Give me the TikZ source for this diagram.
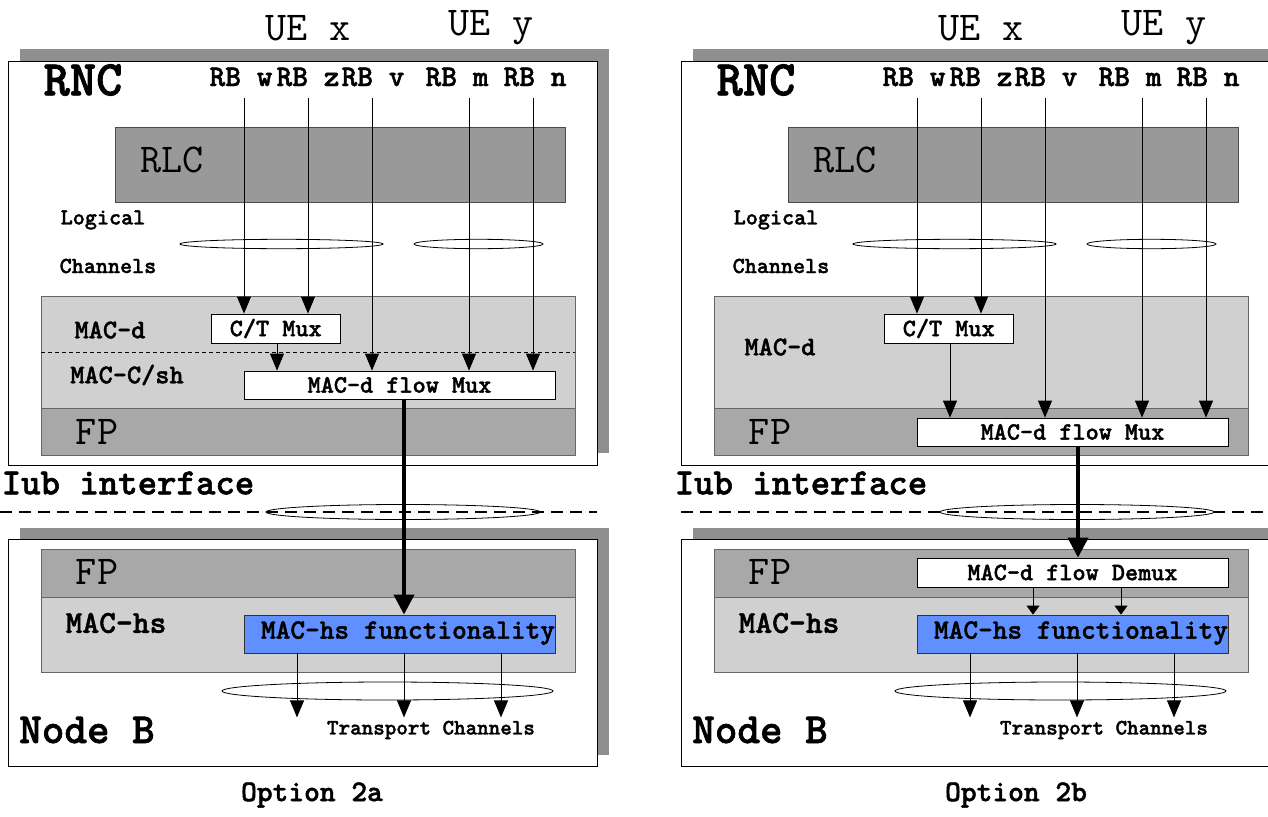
\documentclass[tikz,border=0pt]{standalone}
\usepackage{fontspec}
\newcommand\cour{\ttfamily}
\newfontfamily\courb{lmmonolt10-bold.otf}[FakeBold=1.5]
\usetikzlibrary{arrows.meta}
\definecolor{shadowgray}{HTML}{8F8F8F}
\definecolor{rlcgray}{HTML}{999999}
\definecolor{macgray}{HTML}{D0D0D0}
\definecolor{fpgray}{HTML}{A8A8A8}
\definecolor{hsblue}{HTML}{6090FF}
\newcommand\fsz[1]{\fontsize{#1}{#1}\selectfont}
\tikzset{
  ue/.style={inner sep=0, font=\cour\fsz{41}},
  rnct/.style={inner sep=0, font=\courb\fsz{50}},
  rb/.style={inner sep=0, font=\courb\fsz{30}},
  layer/.style={inner sep=0, font=\cour\fsz{41}},
  small/.style={inner sep=0, font=\courb\fsz{23}},
  maclbl/.style={inner sep=0, font=\courb\fsz{27}},
  hslbl/.style={inner sep=0, font=\courb\fsz{32}},
  big/.style={inner sep=0, font=\courb\fsz{43}},
  panelbox/.style={draw=black, fill=white, line width=0.8pt, inner sep=0},
  rlcbox/.style={draw=black!70, fill=rlcgray, line width=0.8pt, inner sep=0},
  macbox/.style={draw=black!60, fill=macgray, line width=0.8pt, inner sep=0},
  fpbox/.style={draw=black!60, fill=fpgray, line width=0.8pt, inner sep=0},
  whitebox/.style={draw=black, fill=white, line width=0.8pt, inner sep=0, font=\courb\fsz{25}},
  bluebox/.style={draw=black!80, fill=hsblue, line width=0.8pt, inner sep=0},
  arr/.style={-{Triangle[length=17pt,width=14pt]}, line width=0.9pt},
  smallarr/.style={-{Triangle[length=9pt,width=13pt]}, line width=0.9pt},
  thickarr/.style={-{Triangle[length=20pt,width=20pt]}, line width=4pt},
  thinell/.style={draw=black, line width=0.8pt},
  sepline/.style={draw=black, line width=0.8pt, dash pattern=on 4pt off 3pt},
  iubline/.style={draw=black, line width=2pt, dash pattern=on 12pt off 7pt},
}
\newcommand\commonpart{%
  % RNC
  \fill[shadowgray] (20,49) rectangle (609,453);
  \node[panelbox, minimum width=588.3pt, minimum height=404pt] (rnc) at (302.85,263) {};
  \node[rlcbox, minimum width=449.5pt, minimum height=75pt] (rlc) at (340.25,164.5) {};
  \node[layer] (rlct) at (172,160) {RLC};
  \node[ue] (uex) at (308,28) {UE x};
  \node[ue] (uey) at (491,28) {UE y};
  \node[rnct] (rnct) at (83,80) {RNC};
  \node[rb] (rbw) at (241,77) {RB w};
  \node[rb] (rbz) at (308,77) {RB z};
  \node[rb] (rbv) at (373,77) {RB v};
  \node[rb] (rbm) at (457,77) {RB m};
  \node[rb] (rbn) at (535,77) {RB n};
  \coordinate (tw) at (244,98);
  \coordinate (tz) at (308,98);
  \coordinate (tv) at (372,98);
  \coordinate (tm) at (469,98);
  \coordinate (tn) at (533,98);
  \node[small] (logical) at (103,220) {Logical};
  \node[small] (channels) at (108,266) {Channels};
  \node[macbox, minimum width=533.5pt, minimum height=112pt] (mac) at (308.25,352) {};
  \node[fpbox, minimum width=533.5pt, minimum height=47pt] (fp) at (308.25,431.5) {};
  \node[layer] (fpt) at (97,432) {FP};
  \node[whitebox, minimum width=128.5pt, minimum height=29pt] (ctm) at (275.75,328.5) {C/T Mux};
  % Iub
  \node[big, font=\courb\fsz{37}] (iub) at (128,483) {Iub interface};
  % Node B
  \fill[shadowgray] (20,528) rectangle (609,755);
  \node[panelbox, minimum width=588.3pt, minimum height=227pt] (nodeb) at (302.85,652.5) {};
  \node[fpbox, minimum width=533.5pt, minimum height=48pt] (fpb) at (308.25,573) {};
  \node[layer] (fpbt) at (97,572) {FP};
  \node[macbox, minimum width=533.5pt, minimum height=75pt] (machs) at (308.25,634.5) {};
  \node[hslbl] (machst) at (116,623) {MAC-hs};
  \node[bluebox, minimum width=311pt, minimum height=38pt] (blue) at (399.5,634) {};
  \node[inner sep=0, font=\courb\fsz{28}] (bluet) at (408,633) {MAC-hs functionality};
  \node[big] (nodebt) at (87,730) {Node B};
  \node[small, font=\courb\fsz{22}] (tch) at (431,730) {Transport Channels};
  \draw[arr] ([xshift=-102.5pt]blue.south) -- ++(0,64);
  \draw[arr] ([xshift=4.5pt]blue.south) -- ++(0,64);
  \draw[arr] ([xshift=101.5pt]blue.south) -- ++(0,64);
  \draw[thinell] (387.5,691) ellipse [x radius=165.5, y radius=9];
  % RB lines
  \draw[thinell] (281.5,244) ellipse [x radius=101.5, y radius=4.7];
  \draw[thinell] (478.5,244) ellipse [x radius=64.5, y radius=4.7];
  \draw[arr] (tw) -- (tw |- ctm.north);
  \draw[arr] (tz) -- (tz |- ctm.north);
}
\begin{document}
\begin{tikzpicture}[x=1pt,y=-1pt]
\useasboundingbox (0,0) rectangle (1268,816);
\clip (0,0) rectangle (1268,816);
\fill[white] (0,0) rectangle (1268,816);
% ---------------- Option 2a ----------------
\begin{scope}[name prefix=L-]
  \commonpart
  \draw[sepline] (mac.west) -- (mac.east);
  \node[maclbl] (macd) at (110,330) {MAC-d};
  \node[maclbl] (maccsh) at (127,375) {MAC-C/sh};
  \node[whitebox, minimum width=311pt, minimum height=28pt] (fmux) at (399.5,385) {MAC-d flow Mux};
  \draw[arr] ([xshift=1.25pt]ctm.south) -- ([xshift=1.25pt]ctm.south |- fmux.north);
  \draw[arr] (tv) -- (tv |- fmux.north);
  \draw[arr] (tm) -- (tm |- fmux.north);
  \draw[arr] (tn) -- (tn |- fmux.north);
  \draw[iubline] (0,512) -- (597,512);
  \draw[thinell] (403,512) ellipse [x radius=137, y radius=7.5];
  \draw[thickarr] ([xshift=4.5pt]fmux.south) -- ([xshift=4.5pt]fmux.south |- blue.north);
\end{scope}
% ---------------- Option 2b ----------------
\begin{scope}[xshift=673pt, name prefix=R-]
  \commonpart
  \node[maclbl] (macd) at (107,347) {MAC-d};
  \node[whitebox, minimum width=311pt, minimum height=28pt] (fmux) at (399.5,432) {MAC-d flow Mux};
  \node[whitebox, minimum width=311pt, minimum height=29pt] (demux) at (399.5,572.5) {MAC-d flow Demux};
  \draw[arr] ([xshift=1.25pt]ctm.south) -- ([xshift=1.25pt]ctm.south |- fmux.north);
  \draw[arr] (tv) -- (tv |- fmux.north);
  \draw[arr] (tm) -- (tm |- fmux.north);
  \draw[arr] (tn) -- (tn |- fmux.north);
  \draw[iubline] (8,512) -- (600,512);
  \draw[thinell] (404,512) ellipse [x radius=137, y radius=7.5];
  \draw[thickarr] ([xshift=5.5pt]fmux.south) -- ([xshift=5.5pt]fmux.south |- demux.north);
  \draw[smallarr] ([xshift=-39.5pt]demux.south) -- ([xshift=-39.5pt]demux.south |- blue.north);
  \draw[smallarr] ([xshift=48.5pt]demux.south) -- ([xshift=48.5pt]demux.south |- blue.north);
\end{scope}
\node[inner sep=0, font=\courb\fsz{30}] (opta) at (312,795) {Option 2a};
\node[inner sep=0, font=\courb\fsz{30}] (optb) at (1016,795) {Option 2b};
\end{tikzpicture}
\end{document}
